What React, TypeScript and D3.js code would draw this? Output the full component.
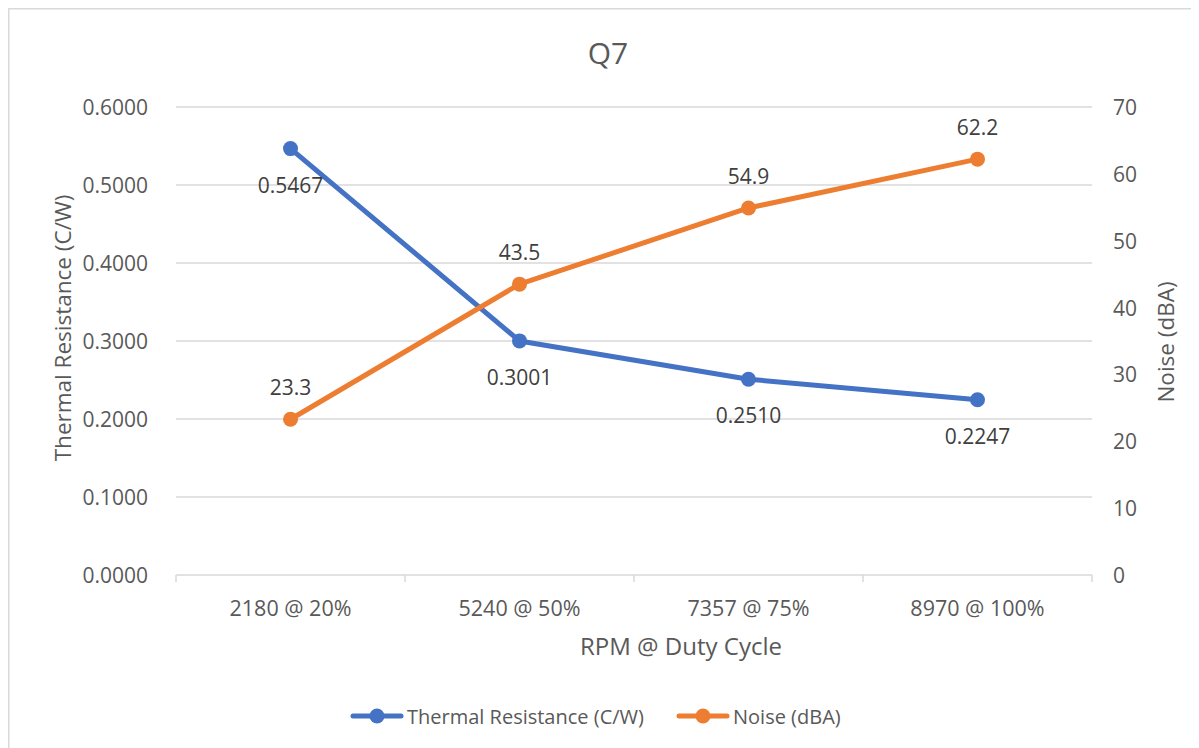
import React from 'react';
import * as d3 from 'd3';

// categories and series
const categories = ['2180 @ 20%', '5240 @ 50%', '7357 @ 75%', '8970 @ 100%'];
const thermal = [0.5467, 0.3001, 0.251, 0.2247];
const noise = [23.3, 43.5, 54.9, 62.2];
const leftTicks = [0, 0.1, 0.2, 0.3, 0.4, 0.5, 0.6];
const rightTicks = [0, 10, 20, 30, 40, 50, 60, 70];

const BLUE = '#4472C4';
const ORANGE = '#ED7D31';
const GRID = '#d9d9d9';
const TEXT = '#595959';
const FONT = '"Open Sans", "Noto Sans", sans-serif';

const W = 1191;
const H = 740;
// page coords minus 8px body margin
const margin = { top: 99, right: 107, bottom: 173, left: 168 };

const App = () => {
  const iw = W - margin.left - margin.right;
  const ih = H - margin.top - margin.bottom;

  const x = d3.scaleBand<string>().domain(categories).range([0, iw]);
  const yL = d3.scaleLinear().domain([0, 0.6]).range([ih, 0]);
  const yR = d3.scaleLinear().domain([0, 70]).range([ih, 0]);
  const cx = (i: number) => (x(categories[i]) ?? 0) + x.bandwidth() / 2;

  const blueLine = d3.line<number>().x((_, i) => cx(i)).y(d => yL(d));
  const orangeLine = d3.line<number>().x((_, i) => cx(i)).y(d => yR(d));

  const legendY = 708;

  return (
    <svg width={W} height={H} style={{ display: 'block', fontFamily: FONT }}>
      {/* chart frame (right/bottom edges are outside the window) */}
      <path d={`M0.75,${H + 10}V0.75H${W + 10}`} fill="none" stroke={GRID} strokeWidth={1.5} />

      <text x={600} y={44} textAnchor="middle" dominantBaseline="central" fill={TEXT} fontSize={30}>Q7</text>

      <g transform={`translate(${margin.left},${margin.top})`}>
        {/* gridlines */}
        {leftTicks.slice(1).map(t => (
          <line key={t} x1={0} x2={iw} y1={yL(t)} y2={yL(t)} stroke={GRID} strokeWidth={1.5} />
        ))}
        {/* x axis */}
        <line x1={0} x2={iw} y1={ih} y2={ih} stroke={GRID} strokeWidth={1.5} />
        {d3.range(categories.length + 1).map(i => {
          const px = i * x.step();
          return <line key={i} x1={px} x2={px} y1={ih} y2={ih + 7} stroke={GRID} strokeWidth={1.5} />;
        })}
        {categories.map((c, i) => (
          <text key={c} x={cx(i)} y={ih + 32} textAnchor="middle" dominantBaseline="central" fill={TEXT} fontSize={21.5}>{c}</text>
        ))}

        {/* left axis labels */}
        {leftTicks.map(t => (
          <text key={t} x={-28} y={yL(t)} textAnchor="end" dominantBaseline="central" fill={TEXT} fontSize={21}>
            {d3.format('.4f')(t)}
          </text>
        ))}
        {/* right axis labels */}
        {rightTicks.map(t => (
          <text key={t} x={iw + 21} y={yR(t)} textAnchor="start" dominantBaseline="central" fill={TEXT} fontSize={21}>{t}</text>
        ))}

        {/* series */}
        <path d={blueLine(thermal) ?? ''} fill="none" stroke={BLUE} strokeWidth={5} strokeLinejoin="round" strokeLinecap="round" />
        {thermal.map((v, i) => (
          <circle key={i} cx={cx(i)} cy={yL(v)} r={7.5} fill={BLUE} />
        ))}
        <path d={orangeLine(noise) ?? ''} fill="none" stroke={ORANGE} strokeWidth={5} strokeLinejoin="round" strokeLinecap="round" />
        {noise.map((v, i) => (
          <circle key={i} cx={cx(i)} cy={yR(v)} r={7.5} fill={ORANGE} />
        ))}

        {/* data labels */}
        {thermal.map((v, i) => (
          <text key={i} x={cx(i)} y={yL(v) + 36} textAnchor="middle" dominantBaseline="central" fill="#404040" fontSize={21}>
            {d3.format('.4f')(v)}
          </text>
        ))}
        {noise.map((v, i) => (
          <text key={i} x={cx(i)} y={yR(v) - 32} textAnchor="middle" dominantBaseline="central" fill="#404040" fontSize={21}>
            {d3.format('.1f')(v)}
          </text>
        ))}
      </g>

      {/* axis titles */}
      <text x={673} y={637} textAnchor="middle" dominantBaseline="central" fill={TEXT} fontSize={24}>RPM @ Duty Cycle</text>
      <text transform={`translate(54,320) rotate(-90)`} textAnchor="middle" dominantBaseline="central" fill={TEXT} fontSize={22.5}>
        Thermal Resistance (C/W)
      </text>
      <text transform={`translate(1157,334) rotate(-90)`} textAnchor="middle" dominantBaseline="central" fill={TEXT} fontSize={22.5}>
        Noise (dBA)
      </text>

      {/* legend */}
      <g transform={`translate(0,${legendY})`}>
        <line x1={345} x2={393} y1={0} y2={0} stroke={BLUE} strokeWidth={5} strokeLinecap="round" />
        <circle cx={369} cy={0} r={7.5} fill={BLUE} />
        <text x={399} y={0} dominantBaseline="central" fill={TEXT} fontSize={20}>Thermal Resistance (C/W)</text>
        <line x1={671} x2={719} y1={0} y2={0} stroke={ORANGE} strokeWidth={5} strokeLinecap="round" />
        <circle cx={695} cy={0} r={7.5} fill={ORANGE} />
        <text x={725} y={0} dominantBaseline="central" fill={TEXT} fontSize={20}>Noise (dBA)</text>
      </g>
    </svg>
  );
};

export default App;
